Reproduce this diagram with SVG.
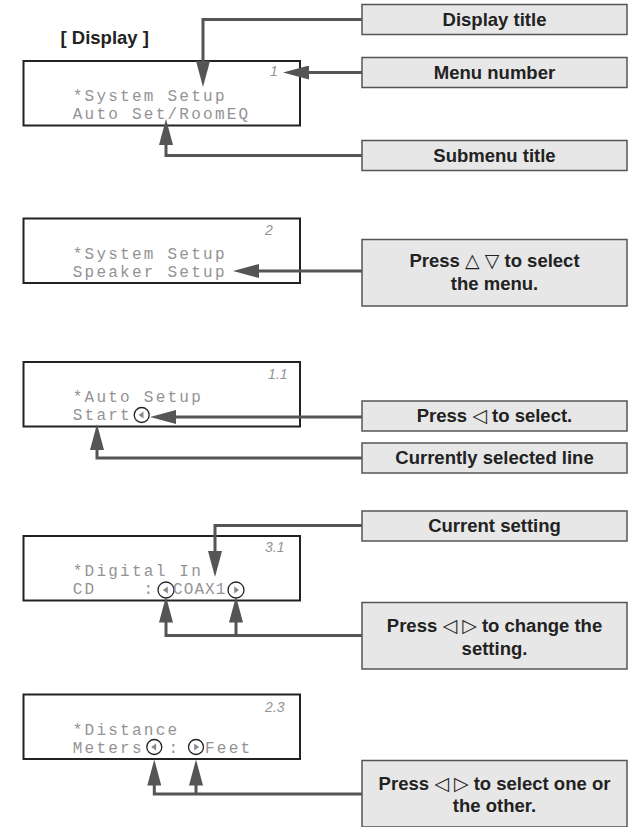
<svg xmlns="http://www.w3.org/2000/svg" width="631" height="827" viewBox="0 0 631 827">
<style>
.lbl{fill:#e7e7e7;stroke:#555;stroke-width:1.5}
.lt{font-family:"Liberation Sans","DejaVu Sans",sans-serif;font-weight:bold;font-size:18.5px;fill:#222;text-anchor:middle}
.sym{font-family:"DejaVu Sans",sans-serif;font-weight:normal;font-size:19px}
.disp{fill:#fff;stroke:#222;stroke-width:2}
.lcd{font-family:"Liberation Mono","DejaVu Sans Mono",monospace;font-size:16px;fill:#939393;letter-spacing:2.25px}
.num{font-family:"Liberation Sans",sans-serif;font-style:italic;font-size:14px;fill:#939393}
.cir{fill:none;stroke:#222;stroke-width:1.3}
.tri{fill:#8a8a8a}
.con{fill:none;stroke:#555;stroke-width:3;marker-end:url(#ah)}
.hd{font-family:"Liberation Sans",sans-serif;font-weight:bold;font-size:18.5px;fill:#222}
</style>
<defs>
<marker id="ah" markerUnits="userSpaceOnUse" markerWidth="26" markerHeight="14" viewBox="0 0 26 14" refX="1" refY="7" orient="auto"><path d="M0,0 L26,7 L0,14 Z" fill="#555"/></marker>
</defs>
<rect width="631" height="827" fill="#fff"/>
<text class="hd" x="60.5" y="44">[ Display ]</text>

<g id="display1">
<rect class="disp" x="23.5" y="61" width="276.5" height="64.5"/>
<text class="num" x="270" y="76">1</text>
<text class="lcd" x="72.7" y="100.5">*System Setup</text>
<text class="lcd" x="72.7" y="118.5">Auto Set/RoomEQ</text>
</g>
<g id="display2">
<rect class="disp" x="23.5" y="218.5" width="276.5" height="64.5"/>
<text class="num" x="265" y="235">2</text>
<text class="lcd" x="72.7" y="258.5">*System Setup</text>
<text class="lcd" x="72.7" y="276.5">Speaker Setup</text>
</g>
<g id="display3">
<rect class="disp" x="23.5" y="362" width="276.5" height="64.5"/>
<text class="num" x="268" y="378.5">1.1</text>
<text class="lcd" x="72.7" y="402">*Auto Setup</text>
<text class="lcd" x="72.7" y="420">Start</text>
<circle class="cir" cx="141.7" cy="415" r="7.5"/>
<path class="tri" d="M138.5,415 L143.5,411.5 L143.5,418.5 Z"/>
</g>
<g id="display4">
<rect class="disp" x="23.5" y="536" width="276.5" height="64.5"/>
<text class="num" x="265" y="551.5">3.1</text>
<text class="lcd" x="72.7" y="576">*Digital In</text>
<text class="lcd" x="72.7" y="594">CD</text>
<text class="lcd" x="143.5" y="594">:</text>
<circle class="cir" cx="166" cy="590" r="8"/>
<path class="tri" d="M162.8,590 L167.8,586.5 L167.8,593.5 Z"/>
<text class="lcd" x="173" y="594" style="letter-spacing:1.1px">COAX1</text>
<circle class="cir" cx="236" cy="590" r="8"/>
<path class="tri" d="M239.2,590 L234.2,586.5 L234.2,593.5 Z"/>
</g>
<g id="display5">
<rect class="disp" x="23.5" y="694.5" width="276.5" height="64.5"/>
<text class="num" x="265" y="711.5">2.3</text>
<text class="lcd" x="72.7" y="734.5">*Distance</text>
<text class="lcd" x="72.7" y="752.5">Meters</text>
<circle class="cir" cx="154.3" cy="747" r="7.5"/>
<path class="tri" d="M151.1,747 L156.1,743.5 L156.1,750.5 Z"/>
<text class="lcd" x="168.5" y="752.5">:</text>
<circle class="cir" cx="196" cy="747" r="7.5"/>
<path class="tri" d="M199.2,747 L194.2,743.5 L194.2,750.5 Z"/>
<text class="lcd" x="205" y="752.5">Feet</text>
</g>

<g id="lbl-display-title">
<rect class="lbl" x="362" y="4.5" width="265" height="30"/>
<text class="lt" x="494.5" y="25.5">Display title</text>
</g>
<g id="lbl-menu-number">
<rect class="lbl" x="362" y="57.5" width="265" height="30"/>
<text class="lt" x="494.5" y="78.5">Menu number</text>
</g>
<g id="lbl-submenu-title">
<rect class="lbl" x="362" y="140.5" width="265" height="30"/>
<text class="lt" x="494.5" y="161.5">Submenu title</text>
</g>
<g id="lbl-select-menu">
<rect class="lbl" x="362" y="239.5" width="265" height="66.5"/>
<text class="lt" x="494.5" y="267">Press <tspan class="sym">△</tspan> <tspan class="sym">▽</tspan> to select</text>
<text class="lt" x="494.5" y="289.5">the menu.</text>
</g>
<g id="lbl-press-select">
<rect class="lbl" x="362" y="401" width="265" height="30"/>
<text class="lt" x="494.5" y="422">Press <tspan class="sym">◁</tspan> to select.</text>
</g>
<g id="lbl-current-line">
<rect class="lbl" x="362" y="443" width="265" height="30"/>
<text class="lt" x="494.5" y="464">Currently selected line</text>
</g>
<g id="lbl-current-setting">
<rect class="lbl" x="362" y="511" width="265" height="30"/>
<text class="lt" x="494.5" y="532">Current setting</text>
</g>
<g id="lbl-change-setting">
<rect class="lbl" x="362" y="602.5" width="265" height="66.5"/>
<text class="lt" x="494.5" y="632">Press <tspan class="sym">◁</tspan> <tspan class="sym">▷</tspan> to change the</text>
<text class="lt" x="494.5" y="655">setting.</text>
</g>
<g id="lbl-select-one">
<rect class="lbl" x="362" y="760.5" width="265" height="66.5"/>
<text class="lt" x="494.5" y="789.5">Press <tspan class="sym">◁</tspan> <tspan class="sym">▷</tspan> to select one or</text>
<text class="lt" x="494.5" y="812">the other.</text>
</g>

<g id="connectors">
<path class="con" d="M362,19.5 H203 V62"/>
<path class="con" d="M362,72.5 H308"/>
<path class="con" d="M362,155.5 H166 V144"/>
<path class="con" d="M362,271 H258"/>
<path class="con" d="M362,417 H175"/>
<path class="con" d="M362,458 H97 V449"/>
<path class="con" d="M362,525.5 H215 V552"/>
<path class="con" d="M362,635.5 H166 V621.5"/>
<path class="con" d="M236,635.5 V621.5"/>
<path class="con" d="M362,794 H154.3 V784.5"/>
<path class="con" d="M196,794 V784.5"/>
</g>
</svg>
